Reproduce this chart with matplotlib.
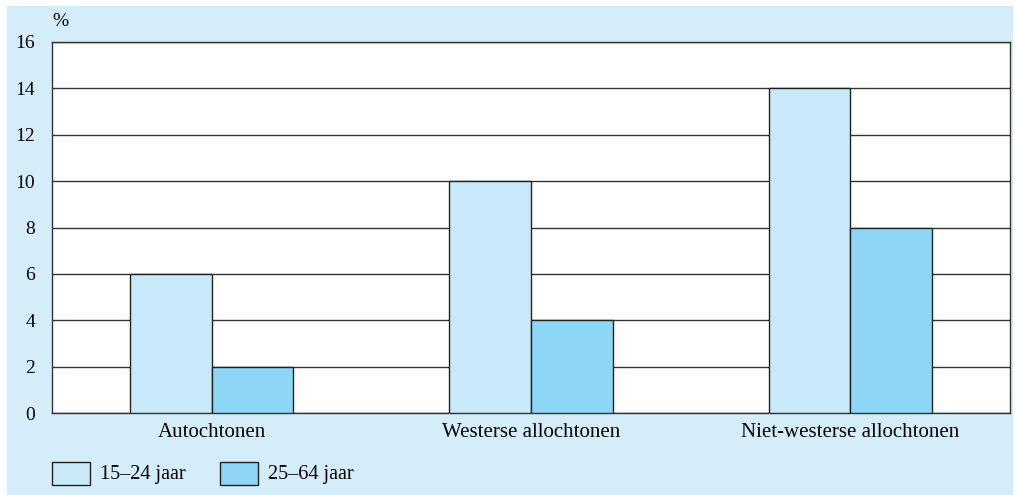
import matplotlib.pyplot as plt
import numpy as np
from matplotlib.patches import Rectangle

categories = ["Autochtonen", "Westerse allochtonen", "Niet-westerse allochtonen"]
young = [6, 10, 14]
older = [2, 4, 8]
series_labels = ["15\u201324 jaar", "25\u201364 jaar"]

bg = "#d5edf9"
light = "#c8e9f8"
dark = "#8dd6f5"

plt.rcParams["font.family"] = ["Liberation Serif", "DejaVu Serif"]

fig = plt.figure(figsize=(10.15, 4.95), dpi=100)
fig.patches.append(Rectangle((7 / 1015, 0), 1006 / 1015, 489 / 495,
                             transform=fig.transFigure, facecolor=bg,
                             edgecolor="none", zorder=-10))

ax = fig.add_axes([52 / 1015, 1 - 413 / 495, 958 / 1015, 371 / 495])
x = np.arange(len(categories))
w = 0.256
ax.bar(x - w / 2, young, w, color=light, edgecolor="#222222", linewidth=1, zorder=3)
ax.bar(x + w / 2, older, w, color=dark, edgecolor="#222222", linewidth=1, zorder=3)

ax.set_xlim(-0.5, 2.5)
ax.set_ylim(0, 16)
ax.set_yticks(range(0, 17, 2))
ax.set_xticks(x)
ax.set_xticklabels(categories, fontsize=15)
ax.tick_params(axis="x", length=0, pad=7)
ax.tick_params(axis="y", length=0, labelsize=14, pad=12)
ax.yaxis.grid(True, color="#333333", linewidth=1)
ax.set_axisbelow(True)
for s in ax.spines.values():
    s.set_color("#333333")
    s.set_linewidth(1)
ax.text(-0.5, 16.5, "%", fontsize=14, ha="left", va="bottom")

# legend
lx = [52, 220]
for i, (lab, col) in enumerate(zip(series_labels, [light, dark])):
    fig.patches.append(Rectangle((lx[i] / 1015, 1 - 485 / 495), 38 / 1015, 23 / 495,
                                 transform=fig.transFigure, facecolor=col,
                                 edgecolor="#222222", linewidth=1))
    fig.text((lx[i] + 48) / 1015, 1 - 474 / 495, lab, fontsize=14.5, va="center")

fig.savefig("out.png", dpi=100)
